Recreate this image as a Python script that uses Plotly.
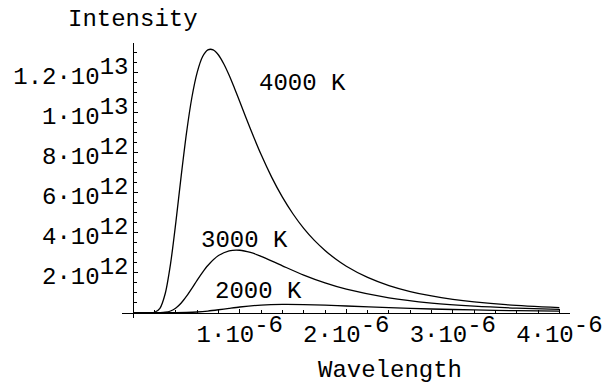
import plotly.graph_objects as go

# Wavelength (m) and spectral intensity (W/m^3)
wl_4000 = [0, 0.15e-6, 0.2e-6, 0.25e-6, 0.3e-6, 0.35e-6, 0.4e-6, 0.45e-6, 0.5e-6, 0.55e-6,
           0.6e-6, 0.65e-6, 0.7e-6, 0.75e-6, 0.8e-6, 0.85e-6, 0.9e-6, 0.95e-6, 1.0e-6, 1.1e-6,
           1.2e-6, 1.3e-6, 1.4e-6, 1.5e-6, 1.6e-6, 1.7e-6, 1.8e-6, 1.9e-6, 2.0e-6, 2.2e-6,
           2.4e-6, 2.6e-6, 2.8e-6, 3.0e-6, 3.2e-6, 3.5e-6, 4.0e-6]
int_4000 = [0, 0.0002e12, 0.018e12, 0.216e12, 0.955e12, 2.45e12, 4.54e12, 6.85e12, 9.0e12, 10.755e12,
            12.01e12, 12.79e12, 13.135e12, 13.14e12, 12.88e12, 12.43e12, 11.865e12, 11.22e12, 10.54e12, 9.18e12,
            7.90e12, 6.76e12, 5.77e12, 4.93e12, 4.21e12, 3.61e12, 3.11e12, 2.68e12, 2.32e12, 1.758e12,
            1.352e12, 1.054e12, 0.832e12, 0.665e12, 0.537e12, 0.397e12, 0.251e12]

wl_3000 = [0, 0.25e-6, 0.3e-6, 0.35e-6, 0.4e-6, 0.45e-6, 0.5e-6, 0.55e-6, 0.6e-6, 0.65e-6,
           0.7e-6, 0.8e-6, 0.9e-6, 1.0e-6, 1.1e-6, 1.2e-6, 1.4e-6, 1.6e-6, 1.8e-6, 2.0e-6,
           2.4e-6, 2.8e-6, 3.2e-6, 3.6e-6, 4.0e-6]
int_3000 = [0, 0.002e12, 0.0175e12, 0.080e12, 0.227e12, 0.477e12, 0.818e12, 1.21e12, 1.627e12, 2.016e12,
            2.358e12, 2.851e12, 3.088e12, 3.118e12, 3.006e12, 2.816e12, 2.338e12, 1.874e12, 1.483e12, 1.169e12,
            0.737e12, 0.478e12, 0.321e12, 0.222e12, 0.158e12]

wl_2000 = [0, 0.4e-6, 0.5e-6, 0.6e-6, 0.7e-6, 0.8e-6, 0.9e-6, 1.0e-6, 1.2e-6, 1.4e-6,
           1.6e-6, 1.8e-6, 2.0e-6, 2.4e-6, 2.8e-6, 3.2e-6, 3.6e-6, 4.0e-6]
int_2000 = [0, 0.0006e11, 0.0675e11, 0.298e11, 0.766e11, 1.42e11, 2.14e11, 2.81e11, 3.754e11, 4.10e11,
            4.02e11, 3.71e11, 3.29e11, 2.47e11, 1.80e11, 1.32e11, 0.97e11, 0.725e11]

curve_labels = ["4000 K", "3000 K", "2000 K"]
label_x = [1.59e-6, 1.04e-6, 1.18e-6]
label_y = [11.45e12, 3.63e12, 1.05e12]

x_tickvals = [1e-6, 2e-6, 3e-6, 4e-6]
x_tick_mant = ["1", "2", "3", "4"]
x_tick_exp = ["-6", "-6", "-6", "-6"]
y_tickvals = [2e12, 4e12, 6e12, 8e12, 1e13, 1.2e13]
y_tick_mant = ["2", "4", "6", "8", "1", "1.2"]
y_tick_exp = ["12", "12", "12", "12", "13", "13"]

FONT = "Liberation Mono, Courier New, monospace"
FS = 24


def sci(m, e):
    return f"{m}·10<sup><span style='font-size:{FS}px'>{e}</span></sup>"


fig = go.Figure()
for wl, it in [(wl_4000, int_4000), (wl_3000, int_3000), (wl_2000, int_2000)]:
    fig.add_trace(go.Scatter(x=wl, y=it, mode="lines",
                             line=dict(color="black", width=1.3, shape="spline", smoothing=0.8),
                             showlegend=False, hoverinfo="skip"))

for t, lx, ly in zip(curve_labels, label_x, label_y):
    fig.add_annotation(x=lx, y=ly, xref="x", yref="y", text=t, showarrow=False,
                       font=dict(family=FONT, size=FS, color="black"),
                       xanchor="center", yanchor="middle")

fig.add_annotation(x=0, y=1.087, xref="x", yref="paper", text="Intensity", showarrow=False,
                   font=dict(family=FONT, size=FS, color="black"), xanchor="center", yanchor="middle")
fig.add_annotation(x=2.41e-6, y=-0.19, xref="x", yref="paper", text="Wavelength", showarrow=False,
                   font=dict(family=FONT, size=FS, color="black"), xanchor="center", yanchor="middle")

fig.update_layout(
    template="none",
    width=604, height=382,
    margin=dict(l=122, r=34, t=43, b=64, autoexpand=False),
    paper_bgcolor="white", plot_bgcolor="white",
    font=dict(family=FONT, size=FS, color="black"),
    xaxis=dict(range=[-0.106e-6, 4.1e-6], anchor="free", position=0.0196, automargin=False,
               showgrid=False, zeroline=False, showline=True, linecolor="black", linewidth=1,
               ticks="inside", ticklen=4, tickwidth=1, tickcolor="black",
               tickvals=x_tickvals, ticktext=[sci(m, e) for m, e in zip(x_tick_mant, x_tick_exp)],
               tickfont=dict(family=FONT, size=FS, color="black"),
               minor=dict(dtick=0.2e-6, tick0=0, ticks="inside", ticklen=3, tickcolor="black", tickwidth=1,
                          showgrid=False)),
    yaxis=dict(range=[-0.27e12, 13.48e12], anchor="free", position=0.0252, automargin=False,
               showgrid=False, zeroline=False, showline=True, linecolor="black", linewidth=1,
               ticks="inside", ticklen=4, tickwidth=1, tickcolor="black", ticklabelshift=3,
               tickvals=y_tickvals, ticktext=[sci(m, e) for m, e in zip(y_tick_mant, y_tick_exp)],
               tickfont=dict(family=FONT, size=FS, color="black"),
               minor=dict(dtick=0.5e12, tick0=0, ticks="inside", ticklen=3, tickcolor="black", tickwidth=1,
                          showgrid=False)),
)

fig.write_html("out.html", config={"displayModeBar": False},
               post_script="document.body.style.margin='0';document.body.style.padding='0';")
